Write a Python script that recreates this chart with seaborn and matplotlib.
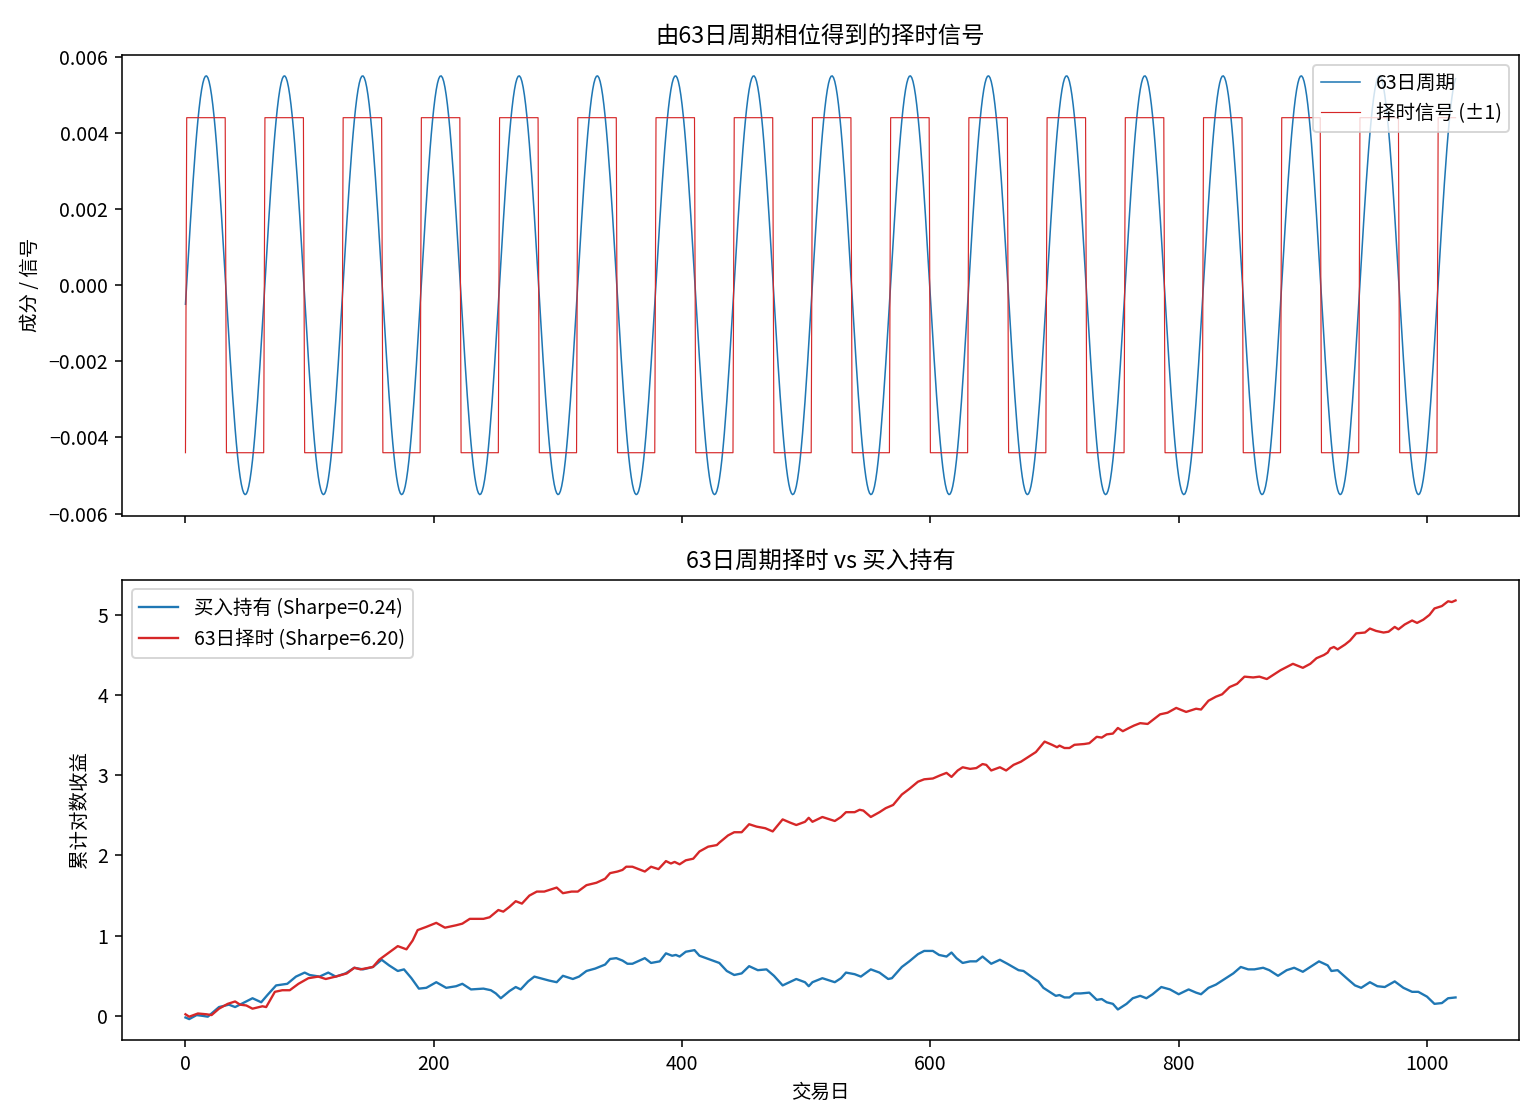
"""
63日周期择时信号 与 买入持有 的累计对数收益对比图
"""

import numpy as np
import matplotlib
matplotlib.use("Agg")
import matplotlib.pyplot as plt
import seaborn as sns

plt.rcParams['font.family'] = ['Noto Sans CJK SC', 'DejaVu Sans']
plt.rcParams['axes.unicode_minus'] = True

# 63日周期成分 (从图中读出的参数)
N_DAYS = 1024
CYCLE_PERIOD = 63
CYCLE_AMPLITUDE = 0.0055
CYCLE_START = -0.0005       # 第0日的取值 (上升段)
SIGNAL_SCALE = 0.0044       # 信号画图时的缩放

# 买入持有累计对数收益 (交易日, 数值)
BH_DAYS = [0, 3, 9, 14, 18, 27, 35, 40, 49, 54, 61, 66, 73, 82, 89, 96, 100, 108, 115, 121,
           129, 136, 143, 151, 158, 164, 171, 176, 182, 188, 194, 202, 210, 218, 223, 230,
           240, 246, 250, 254, 261, 266, 270, 276, 281, 288, 293, 299, 304, 312, 317, 323,
           330, 338, 342, 347, 352, 356, 360, 370, 375, 382, 387, 392, 395, 398, 403, 410,
           414, 421, 428, 430, 436, 442, 448, 454, 461, 468, 474, 481, 488, 492, 499, 502,
           505, 513, 523, 528, 532, 539, 544, 552, 559, 566, 569, 577, 583, 590, 595, 602,
           607, 613, 617, 621, 626, 632, 637, 642, 649, 656, 662, 671, 675, 683, 687, 691,
           696, 701, 704, 708, 712, 716, 721, 728, 734, 738, 742, 747, 751, 755, 758, 763,
           769, 774, 779, 786, 793, 800, 808, 814, 818, 824, 830, 838, 844, 850, 856, 861,
           868, 873, 880, 887, 893, 900, 907, 913, 920, 923, 928, 936, 942, 947, 954, 960,
           966, 974, 981, 988, 993, 1000, 1006, 1012, 1017, 1023]
BH_VALUES = [-0.02, -0.04, 0.01, 0.00, -0.01, 0.11, 0.14, 0.11, 0.18, 0.22, 0.17, 0.26, 0.38,
             0.40, 0.49, 0.54, 0.51, 0.49, 0.54, 0.49, 0.53, 0.60, 0.58, 0.61, 0.70, 0.63,
             0.56, 0.58, 0.47, 0.34, 0.35, 0.42, 0.35, 0.37, 0.40, 0.33, 0.34, 0.32, 0.28,
             0.22, 0.31, 0.36, 0.33, 0.43, 0.49, 0.46, 0.44, 0.42, 0.50, 0.46, 0.49, 0.56,
             0.59, 0.64, 0.71, 0.72, 0.69, 0.65, 0.65, 0.72, 0.66, 0.68, 0.78, 0.75, 0.76,
             0.74, 0.80, 0.82, 0.75, 0.71, 0.67, 0.66, 0.56, 0.51, 0.53, 0.62, 0.57, 0.58,
             0.50, 0.38, 0.43, 0.46, 0.42, 0.37, 0.42, 0.47, 0.42, 0.47, 0.54, 0.52, 0.49,
             0.58, 0.54, 0.46, 0.47, 0.61, 0.68, 0.77, 0.81, 0.81, 0.76, 0.74, 0.79, 0.72,
             0.66, 0.68, 0.68, 0.74, 0.65, 0.70, 0.65, 0.57, 0.56, 0.47, 0.43, 0.35, 0.30,
             0.25, 0.26, 0.23, 0.23, 0.28, 0.28, 0.29, 0.20, 0.21, 0.17, 0.15, 0.08, 0.12,
             0.15, 0.22, 0.25, 0.22, 0.27, 0.36, 0.33, 0.27, 0.33, 0.29, 0.27, 0.35, 0.39,
             0.47, 0.53, 0.61, 0.58, 0.58, 0.60, 0.57, 0.50, 0.57, 0.60, 0.55, 0.62, 0.68,
             0.63, 0.56, 0.57, 0.46, 0.38, 0.35, 0.42, 0.37, 0.36, 0.43, 0.35, 0.30, 0.30,
             0.24, 0.15, 0.16, 0.22, 0.23]

# 63日择时累计对数收益 (交易日, 数值)
TIMING_DAYS = [0, 3, 10, 17, 21, 27, 34, 40, 44, 49, 54, 62, 65, 72, 78, 84, 91, 99, 107, 113,
               121, 130, 136, 141, 151, 156, 164, 171, 178, 183, 187, 194, 202, 209, 218, 223,
               229, 240, 245, 252, 256, 261, 266, 271, 277, 283, 289, 295, 299, 304, 311, 316,
               323, 331, 338, 342, 348, 352, 355, 360, 370, 375, 381, 387, 391, 394, 398, 403,
               409, 414, 421, 428, 430, 437, 442, 448, 454, 460, 467, 473, 481, 487, 492, 499,
               502, 505, 513, 523, 528, 532, 539, 543, 546, 552, 559, 564, 570, 577, 583, 590,
               595, 602, 608, 613, 617, 622, 626, 632, 637, 642, 645, 649, 656, 661, 667, 673,
               680, 685, 692, 698, 702, 704, 708, 712, 716, 724, 728, 734, 738, 742, 747, 751,
               755, 760, 764, 769, 775, 785, 791, 798, 806, 814, 818, 824, 830, 835, 841, 847,
               853, 860, 865, 871, 876, 882, 887, 892, 900, 906, 911, 917, 920, 922, 925, 928,
               934, 938, 943, 950, 954, 959, 965, 969, 974, 977, 982, 988, 992, 997, 1002,
               1006, 1012, 1017, 1020, 1023]
TIMING_VALUES = [0.02, -0.01, 0.03, 0.02, 0.01, 0.09, 0.15, 0.18, 0.14, 0.13, 0.09, 0.12, 0.11,
                 0.30, 0.32, 0.32, 0.40, 0.47, 0.49, 0.46, 0.49, 0.53, 0.60, 0.58, 0.61, 0.70,
                 0.79, 0.87, 0.83, 0.94, 1.07, 1.11, 1.16, 1.10, 1.13, 1.15, 1.21, 1.21, 1.23,
                 1.32, 1.30, 1.36, 1.43, 1.40, 1.50, 1.55, 1.55, 1.58, 1.60, 1.53, 1.55, 1.55,
                 1.63, 1.66, 1.71, 1.78, 1.80, 1.82, 1.86, 1.86, 1.80, 1.86, 1.83, 1.93, 1.90,
                 1.92, 1.89, 1.94, 1.96, 2.05, 2.11, 2.13, 2.16, 2.25, 2.29, 2.29, 2.39, 2.36,
                 2.34, 2.30, 2.45, 2.41, 2.38, 2.42, 2.47, 2.42, 2.48, 2.43, 2.48, 2.54, 2.54,
                 2.57, 2.56, 2.48, 2.54, 2.59, 2.63, 2.76, 2.83, 2.92, 2.95, 2.96, 3.00, 3.03,
                 2.98, 3.06, 3.10, 3.08, 3.09, 3.14, 3.13, 3.06, 3.10, 3.06, 3.13, 3.17, 3.24,
                 3.29, 3.42, 3.38, 3.35, 3.37, 3.34, 3.34, 3.38, 3.39, 3.40, 3.48, 3.47, 3.51,
                 3.52, 3.59, 3.55, 3.59, 3.62, 3.65, 3.64, 3.76, 3.78, 3.84, 3.79, 3.83, 3.82,
                 3.93, 3.98, 4.01, 4.10, 4.14, 4.23, 4.22, 4.23, 4.20, 4.25, 4.31, 4.35, 4.39,
                 4.34, 4.39, 4.46, 4.50, 4.53, 4.58, 4.60, 4.57, 4.63, 4.68, 4.77, 4.78, 4.83,
                 4.80, 4.78, 4.79, 4.85, 4.82, 4.88, 4.93, 4.90, 4.94, 5.00, 5.08, 5.11, 5.17,
                 5.16, 5.18]

BH_SHARPE = 0.24
TIMING_SHARPE = 6.20


def plot_cycle_timing():
    days = np.arange(N_DAYS)
    phase0 = np.arcsin(CYCLE_START / CYCLE_AMPLITUDE)
    cycle = CYCLE_AMPLITUDE * np.sin(2 * np.pi * days / CYCLE_PERIOD + phase0)
    signal = np.sign(cycle)

    fig, (ax1, ax2) = plt.subplots(2, 1, figsize=(11, 8), dpi=140, sharex=True)
    fig.subplots_adjust(left=0.0792, right=0.9864, top=0.9509, bottom=0.0714, hspace=0.139)

    # 上图: 周期成分与择时信号
    sns.lineplot(x=days, y=cycle, ax=ax1, color='tab:blue', linewidth=0.8, label='63日周期')
    sns.lineplot(x=days, y=signal * SIGNAL_SCALE, ax=ax1, color='tab:red', linewidth=0.6,
                 label='择时信号 (±1)')
    ax1.set_title('由63日周期相位得到的择时信号', fontsize=12)
    ax1.set_ylabel('成分 / 信号')
    ax1.set_xlabel('')
    ax1.legend(loc='upper right')

    # 下图: 累计对数收益
    sns.lineplot(x=BH_DAYS, y=BH_VALUES, ax=ax2, color='tab:blue', linewidth=1.2,
                 label=f'买入持有 (Sharpe={BH_SHARPE:.2f})')
    sns.lineplot(x=TIMING_DAYS, y=TIMING_VALUES, ax=ax2, color='tab:red', linewidth=1.2,
                 label=f'63日择时 (Sharpe={TIMING_SHARPE:.2f})')
    ax2.set_title('63日周期择时 vs 买入持有', fontsize=12)
    ax2.set_xlabel('交易日')
    ax2.set_ylabel('累计对数收益')
    ax2.legend(loc='upper left')

    fig.savefig('out.png', dpi=140, facecolor='white')


if __name__ == "__main__":
    plot_cycle_timing()
